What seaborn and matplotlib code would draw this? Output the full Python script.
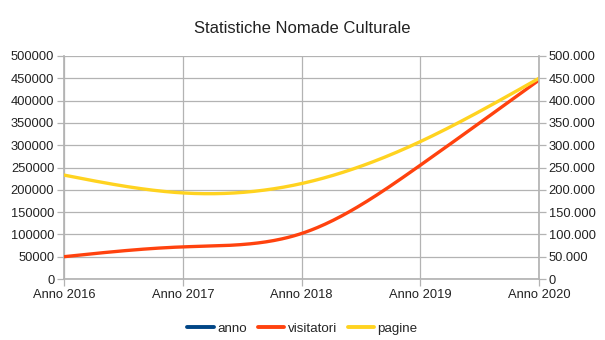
import numpy as np
import pandas as pd
import matplotlib
matplotlib.use("Agg")
import matplotlib.pyplot as plt
from matplotlib.ticker import FuncFormatter, MultipleLocator
from matplotlib.lines import Line2D
import seaborn as sns

categories = ["Anno 2016", "Anno 2017", "Anno 2018", "Anno 2019", "Anno 2020"]
visitatori = [50000, 72000, 102000, 255000, 446000]
pagine = [233000, 193000, 214000, 308000, 450000]
series_names = ["anno", "visitatori", "pagine"]
colors = {"anno": "#004586", "visitatori": "#ff420e", "pagine": "#ffd320"}


def natural_spline(x, y, n=60):
    x = np.asarray(x, float)
    y = np.asarray(y, float)
    k = len(x)
    h = np.diff(x)
    A = np.zeros((k, k))
    b = np.zeros(k)
    A[0, 0] = A[-1, -1] = 1
    for i in range(1, k - 1):
        A[i, i - 1] = h[i - 1]
        A[i, i] = 2 * (h[i - 1] + h[i])
        A[i, i + 1] = h[i]
        b[i] = 6 * ((y[i + 1] - y[i]) / h[i] - (y[i] - y[i - 1]) / h[i - 1])
    M = np.linalg.solve(A, b)
    xs, ys = [], []
    for i in range(k - 1):
        t = np.linspace(x[i], x[i + 1], n, endpoint=(i == k - 2))
        a = x[i + 1] - t
        c = t - x[i]
        s = (M[i] * a ** 3 + M[i + 1] * c ** 3) / (6 * h[i]) \
            + (y[i] / h[i] - M[i] * h[i] / 6) * a \
            + (y[i + 1] / h[i] - M[i + 1] * h[i] / 6) * c
        xs.append(t)
        ys.append(s)
    return np.concatenate(xs), np.concatenate(ys)


sns.set_theme(style="white")
plt.rcParams["font.family"] = ["Liberation Sans", "DejaVu Sans"]

fig = plt.figure(figsize=(6.05, 3.4), dpi=100)
ax = fig.add_axes([64 / 605, 61 / 340, 475 / 605, 223 / 340])

xpos = np.arange(len(categories))
rows = []
for name, vals in [("visitatori", visitatori), ("pagine", pagine)]:
    sx, sy = natural_spline(xpos, vals)
    rows.append(pd.DataFrame({"x": sx, "y": sy, "serie": name}))
df = pd.concat(rows, ignore_index=True)

for name in ["visitatori", "pagine"]:
    sns.lineplot(data=df[df.serie == name], x="x", y="y", color=colors[name],
                 lw=2.4, sort=False, ax=ax, legend=False, zorder=3)

gc = "#b3b3b3"
ax.set_xlim(0, len(categories) - 1)
ax.set_ylim(0, 500000)
ax.yaxis.set_major_locator(MultipleLocator(50000))
ax.set_xticks(xpos)
ax.set_xticklabels(categories)
ax.grid(True, color=gc, lw=0.9)
ax.set_axisbelow(True)
for sp in ax.spines.values():
    sp.set_visible(False)
ax.spines["left"].set_visible(True)
ax.spines["left"].set_color(gc)
ax.spines["bottom"].set_visible(True)
ax.spines["bottom"].set_color(gc)
ax.tick_params(axis="both", which="major", length=5, width=0.9, color=gc,
               labelsize=9.3, labelcolor="#222222", pad=2, direction="out")
ax.tick_params(axis="y", left=True)
ax.tick_params(axis="x", bottom=True)
ax.set_xlabel("")
ax.set_ylabel("")
ax.yaxis.set_major_formatter(FuncFormatter(lambda v, p: f"{int(v)}"))

ax2 = ax.twinx()
ax2.set_ylim(0, 500000)
ax2.yaxis.set_major_locator(MultipleLocator(50000))
ax2.yaxis.set_major_formatter(FuncFormatter(lambda v, p: f"{int(v):,}".replace(",", ".")))
for sp in ax2.spines.values():
    sp.set_visible(False)
ax2.spines["right"].set_visible(True)
ax2.spines["right"].set_color(gc)
ax2.tick_params(axis="y", right=True, length=5, width=0.9, color=gc,
                labelsize=9.3, labelcolor="#222222", pad=2, direction="out")
ax2.grid(False)

fig.text(0.5, 0.915, "Statistiche Nomade Culturale", ha="center", va="center",
         fontsize=12, color="#222222")

handles = [Line2D([], [], color=colors[n], lw=2.8) for n in series_names]
fig.legend(handles, series_names, loc="center", bbox_to_anchor=(0.5, 0.033),
           ncol=3, frameon=False, fontsize=9.6, handlelength=2.0,
           handletextpad=0.25, columnspacing=0.8)

fig.savefig("out.png", dpi=100)
